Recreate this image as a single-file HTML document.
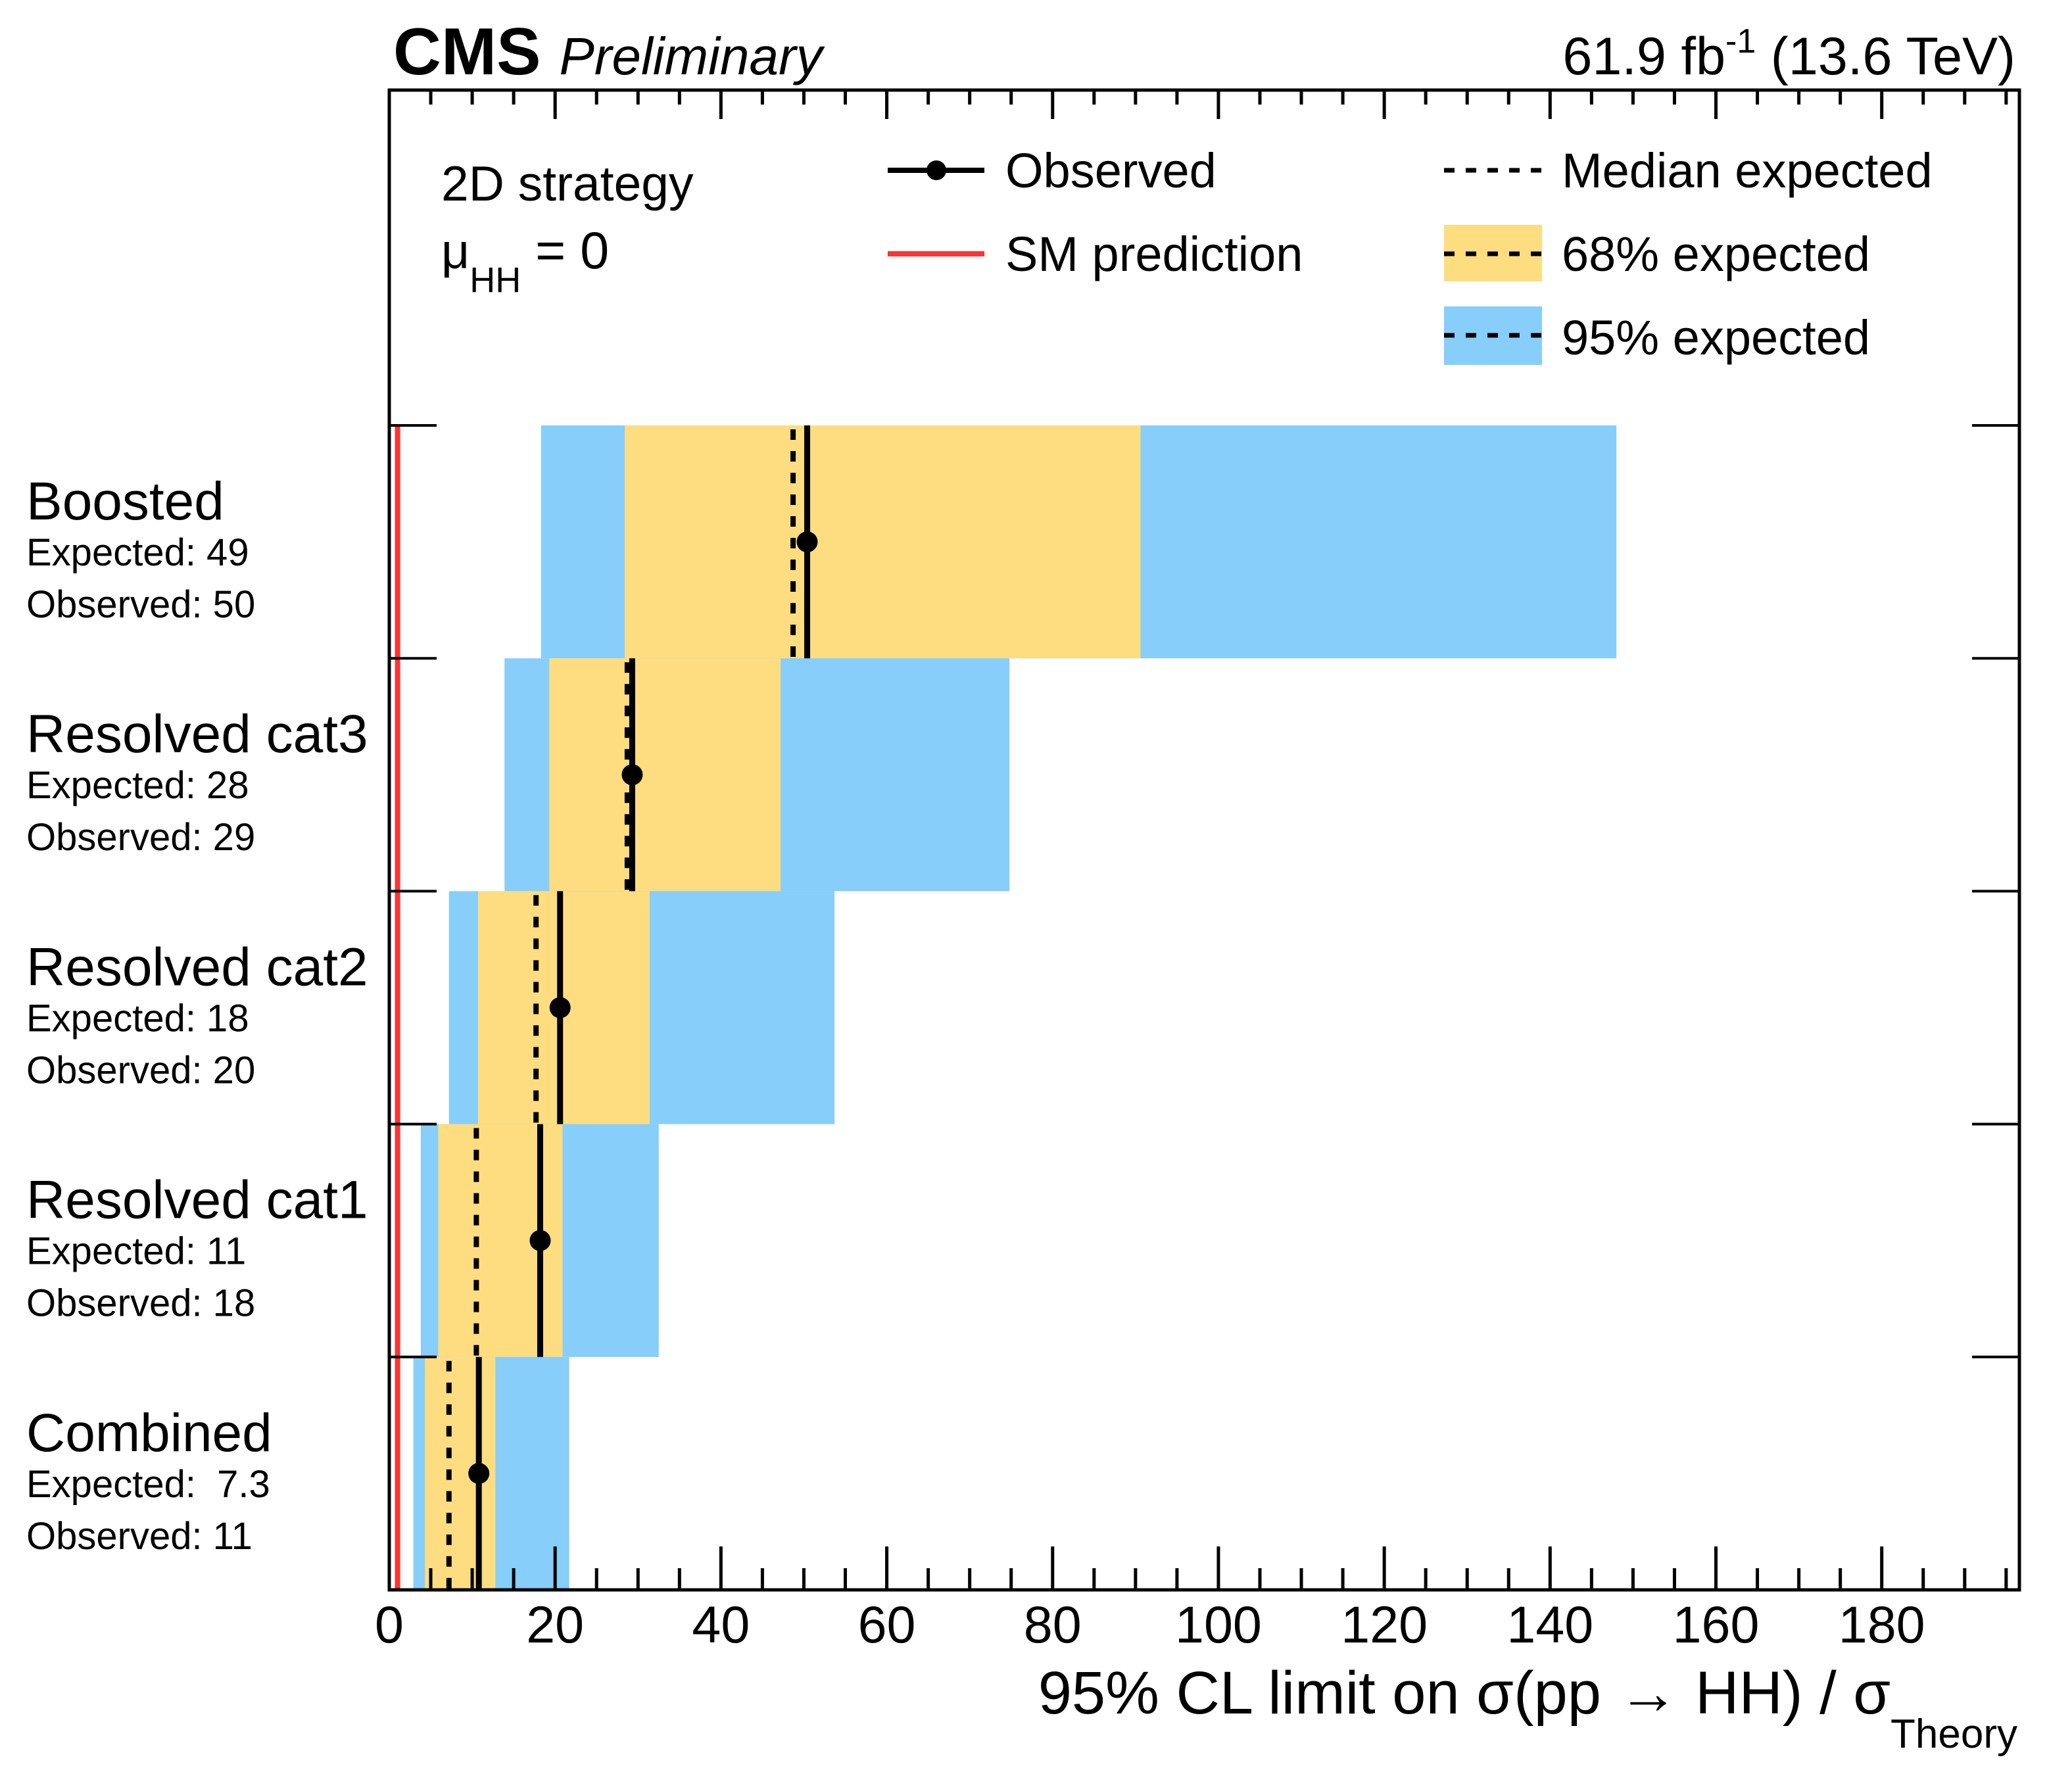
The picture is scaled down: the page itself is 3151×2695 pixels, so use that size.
<!DOCTYPE html>
<html><head><meta charset="utf-8"><style>
html,body{margin:0;padding:0;background:#fff;}
svg{display:block;font-family:"Liberation Sans",sans-serif;}
</style></head><body>
<svg id="chart" width="3151" height="2695" viewBox="0 0 3151 2695" xmlns="http://www.w3.org/2000/svg">
<g id="bands"></g>
<g id="lines"></g>
<g id="axes"></g>
<g id="labels"></g>
<g>
<text x="598" y="113" font-size="101" font-weight="bold">CMS <tspan font-weight="normal" font-style="italic" font-size="80">Preliminary</tspan></text>
<text x="3065" y="113" font-size="81" text-anchor="end">61.9 fb<tspan dy="-33" font-size="52">-1</tspan><tspan dy="33"> (13.6 TeV)</tspan></text>
</g>
<g>
<text x="671" y="305" font-size="75">2D strategy</text>
<text x="671" y="408" font-size="75">μ<tspan dy="36" font-size="54">HH</tspan><tspan dy="-36" font-size="79"> = 0</tspan></text>
<g>
<line x1="1350" y1="259" x2="1497" y2="259" stroke="#000" stroke-width="8"/>
<circle cx="1424" cy="259" r="15" fill="#000"/>
<text x="1529" y="285" font-size="74">Observed</text></g>
<g>
<line x1="1350" y1="386" x2="1497" y2="386" stroke="#ff3333" stroke-width="8"/>
<text x="1529" y="412" font-size="74">SM prediction</text></g>
<g>
<line x1="2196" y1="259" x2="2345" y2="259" stroke="#000" stroke-width="7" stroke-dasharray="16 17"/>
<text x="2375" y="285" font-size="74">Median expected</text></g>
<g>
<rect x="2196" y="342" width="149" height="86" fill="#fddd80"/>
<line x1="2196" y1="386" x2="2345" y2="386" stroke="#000" stroke-width="7" stroke-dasharray="16 17"/>
<text x="2375" y="412" font-size="74">68% expected</text></g>
<g>
<rect x="2196" y="466" width="149" height="89" fill="#87cefa"/>
<line x1="2196" y1="510" x2="2345" y2="510" stroke="#000" stroke-width="7" stroke-dasharray="16 17"/>
<text x="2375" y="539" font-size="74">95% expected</text></g>
</g>
<text x="3068" y="2606" font-size="92" text-anchor="end">95% CL limit on σ(pp → HH) / σ<tspan dy="52" font-size="62">Theory</tspan></text>
</svg>
<script>
const categories = ["Boosted", "Resolved cat3", "Resolved cat2", "Resolved cat1", "Combined"];
const expectedText = ["49", "28", "18", "11", "\u00a07.3"];
const observedText = ["50", "29", "20", "18", "11"];
const observed = [50.4, 29.3, 20.6, 18.2, 10.8];
const median = [48.7, 28.7, 17.7, 10.5, 7.2];
const lo68 = [28.4, 19.3, 10.7, 5.9, 4.3];
const hi68 = [90.6, 47.2, 31.4, 20.9, 12.8];
const lo95 = [18.3, 13.9, 7.2, 3.8, 2.9];
const hi95 = [148, 74.8, 53.7, 32.5, 21.7];
const smValue = 1;
const xTicks = [0, 20, 40, 60, 80, 100, 120, 140, 160, 180];

const NS = "http://www.w3.org/2000/svg";
const L = 592, R = 3071, T = 137, B = 2418, XMAX = 196.6;
const ROW0 = 647, ROWH = (B - ROW0) / 5;
function xs(v) { return L + v / XMAX * (R - L); }
function rowTop(i) { return ROW0 + i * ROWH; }
function mk(tag, attrs, parent) {
  const e = document.createElementNS(NS, tag);
  for (const k in attrs) e.setAttribute(k, attrs[k]);
  parent.appendChild(e);
  return e;
}
const gB = document.getElementById("bands"), gL = document.getElementById("lines"),
      gA = document.getElementById("axes"), gT = document.getElementById("labels");

categories.forEach((c, i) => {
  const y0 = rowTop(i), y1 = rowTop(i + 1), yc = (y0 + y1) / 2;
  const b95 = mk("rect", {x: xs(lo95[i]), y: y0, width: xs(hi95[i]) - xs(lo95[i]), height: ROWH, fill: "#87cefa"}, gB);
  
  
  const b68 = mk("rect", {x: xs(lo68[i]), y: y0, width: xs(hi68[i]) - xs(lo68[i]), height: ROWH, fill: "#fddd80"}, gB);
  
  
  const md = mk("line", {x1: xs(median[i]), x2: xs(median[i]), y1: y0 + 6, y2: y1, stroke: "#000", "stroke-width": 8, "stroke-dasharray": "16 17"}, gL);
  
  
  const ob = mk("line", {x1: xs(observed[i]), x2: xs(observed[i]), y1: y0, y2: y1, stroke: "#000", "stroke-width": 9}, gL);
  
  
  const pt = mk("circle", {cx: xs(observed[i]), cy: yc, r: 16, fill: "#000"}, gL);
  
  
  const t1 = mk("text", {x: 40, y: y0 + 143, "font-size": 82}, gT);
  t1.textContent = c;
  
  
  const t2 = mk("text", {x: 40, y: y0 + 213, "font-size": 58}, gT);
  t2.textContent = "Expected: " + expectedText[i];
  
  
  const t3 = mk("text", {x: 40, y: y0 + 292, "font-size": 58}, gT);
  t3.textContent = "Observed: " + observedText[i];
  
  
});

const sm = mk("line", {x1: xs(smValue), x2: xs(smValue), y1: ROW0, y2: B, stroke: "#ff3333", "stroke-width": 8}, gL);



const frame = mk("rect", {x: L, y: T, width: R - L, height: B - T, fill: "none", stroke: "#000", "stroke-width": 5}, gA);



for (let v = 0; v <= XMAX; v += 5) {
  const major = v % 20 === 0;
  const len = major ? 66 : 33;
  const tb = mk("line", {x1: xs(v), x2: xs(v), y1: B, y2: B - len, stroke: "#000", "stroke-width": 5}, gA);
  
  
  const tt = mk("line", {x1: xs(v), x2: xs(v), y1: T, y2: T + (major ? 44 : 22), stroke: "#000", "stroke-width": 5}, gA);
  
  
}
xTicks.forEach(v => {
  const t = mk("text", {x: xs(v), y: 2498, "font-size": 79, "text-anchor": "middle"}, gA);
  t.textContent = v;
  
  
});
for (let i = 0; i < 5; i++) {
  const y = rowTop(i);
  const a = mk("line", {x1: L, x2: L + 72, y1: y, y2: y, stroke: "#000", "stroke-width": 4}, gA);
  
  
  const b = mk("line", {x1: R - 72, x2: R, y1: y, y2: y, stroke: "#000", "stroke-width": 4}, gA);
  
  
}
</script>
</body></html>
